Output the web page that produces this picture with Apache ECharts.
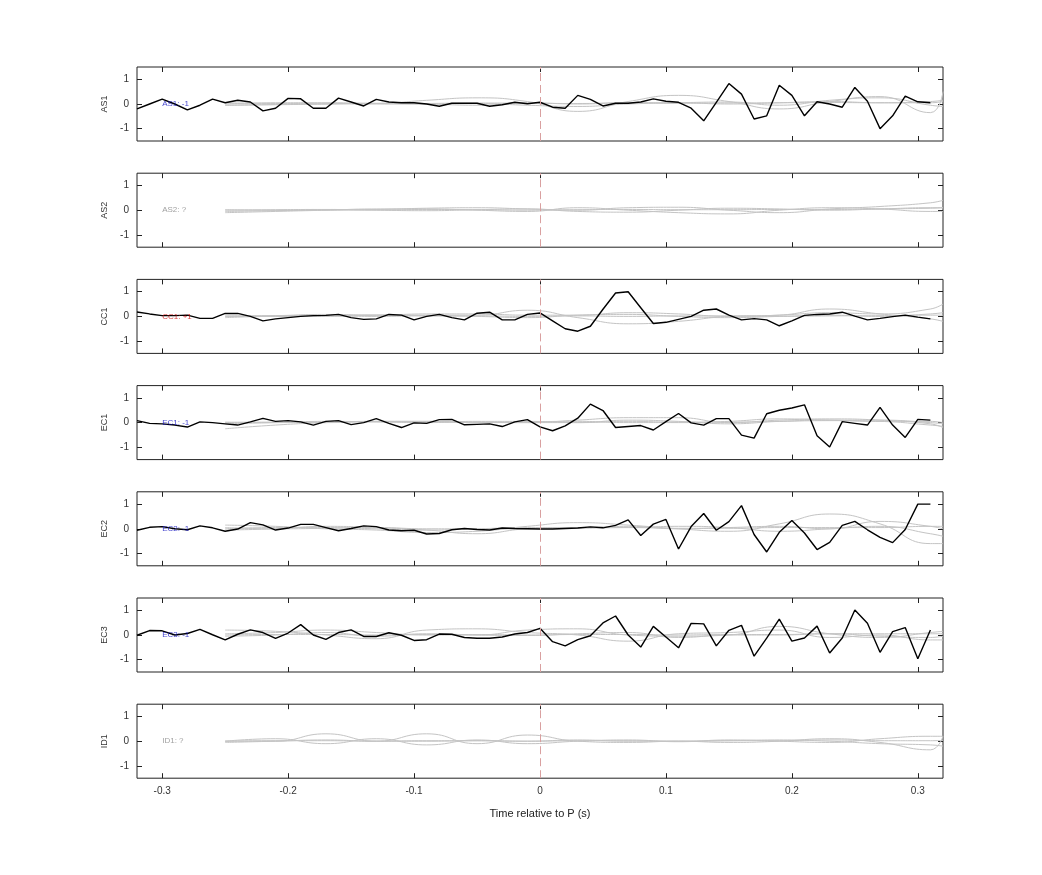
<!DOCTYPE html>
<html>
<head>
<meta charset="utf-8">
<script src="https://cdn.jsdelivr.net/npm/echarts@6/dist/echarts.min.js"></script>
<style>body{margin:0;background:#fff}#main{width:1042px;height:875px}</style>
</head>
<body>
<div id="main"></div>
<script>
// channel names and their polarity labels
var channels = ['AS1', 'AS2', 'CC1', 'EC1', 'EC2', 'EC3', 'ID1'];
var labels = ['AS1: -1', 'AS2: ?', 'CC1: +1', 'EC1: -1', 'EC2: -1', 'EC3: -1', 'ID1: ?'];
var labelColors = ['#1010c0', '#888', '#d01010', '#1010c0', '#1010c0', '#1010c0', '#888'];
var xTicks = [-0.3, -0.2, -0.1, 0, 0.1, 0.2, 0.3];
var yTicks = [-1, 0, 1];

// black trace sample times: -0.32 .. 0.31 step 0.01
var blackT = [];
for (var i = 0; i < 64; i++) blackT.push(+(-0.32 + i * 0.01).toFixed(2));

var as1 = [-0.2,0.0,0.2,0.0,-0.24,-0.05,0.2,0.05,0.15,0.08,-0.28,-0.17,0.23,0.21,-0.17,-0.17,0.24,0.08,-0.08,0.19,0.08,0.05,0.05,0.0,-0.09,0.03,0.03,0.03,-0.09,-0.03,0.07,0.01,0.07,-0.13,-0.17,0.35,0.19,-0.08,0.03,0.03,0.08,0.21,0.11,0.07,-0.17,-0.68,0.07,0.83,0.4,-0.61,-0.48,0.76,0.35,-0.48,0.09,0.0,-0.13,0.67,0.11,-1.0,-0.48,0.32,0.09,0.05];
var cc1 = [0.18,0.1,0.03,0.03,0.05,-0.08,-0.08,0.12,0.12,0.0,-0.18,-0.1,-0.05,0.0,0.03,0.04,0.08,-0.05,-0.12,-0.1,0.08,0.05,-0.14,0.0,0.08,-0.05,-0.14,0.13,0.17,-0.14,-0.14,0.08,0.14,-0.18,-0.5,-0.6,-0.4,0.29,0.95,1.0,0.35,-0.29,-0.24,-0.12,0.0,0.25,0.3,0.05,-0.14,-0.09,-0.14,-0.38,-0.18,0.04,0.08,0.1,0.17,0.01,-0.14,-0.08,-0.01,0.05,-0.03,-0.1];
var ec1 = [0.08,-0.03,-0.05,-0.1,-0.18,0.03,0.0,-0.05,-0.1,0.03,0.17,0.05,0.08,0.03,-0.1,0.05,0.08,-0.08,0.0,0.16,-0.03,-0.2,-0.01,-0.03,0.12,0.13,-0.09,-0.07,-0.05,-0.16,0.03,0.12,-0.17,-0.33,-0.13,0.18,0.75,0.49,-0.2,-0.16,-0.12,-0.3,0.04,0.37,-0.01,-0.1,0.16,0.16,-0.51,-0.63,0.36,0.5,0.59,0.72,-0.53,-0.99,0.04,-0.03,-0.1,0.62,-0.1,-0.6,0.13,0.1];
var ec2 = [-0.06,0.06,0.09,0.0,-0.04,0.12,0.04,-0.1,-0.01,0.25,0.16,-0.05,0.03,0.18,0.18,0.05,-0.08,0.01,0.12,0.09,-0.05,-0.08,-0.06,-0.21,-0.19,-0.04,0.01,-0.03,-0.05,0.03,0.01,0.0,-0.01,-0.01,0.01,0.03,0.08,0.04,0.14,0.36,-0.27,0.19,0.38,-0.82,0.09,0.62,-0.06,0.29,0.94,-0.23,-0.94,-0.14,0.34,-0.17,-0.84,-0.55,0.14,0.3,-0.04,-0.35,-0.56,-0.03,1.0,1.0];
var ec3 = [-0.01,0.18,0.17,0.0,0.06,0.23,0.01,-0.2,0.03,0.21,0.1,-0.14,0.08,0.42,0.0,-0.18,0.1,0.21,-0.06,-0.06,0.09,-0.01,-0.22,-0.19,0.04,0.03,-0.1,-0.13,-0.13,-0.08,0.04,0.1,0.27,-0.27,-0.44,-0.19,-0.03,0.49,0.77,0.0,-0.49,0.35,-0.08,-0.52,0.47,0.45,-0.44,0.19,0.39,-0.86,-0.13,0.64,-0.25,-0.12,0.36,-0.73,-0.12,1.01,0.48,-0.7,0.14,0.3,-0.96,0.2];
var blackData = [as1, null, cc1, ec1, ec2, ec3, null];

// gray template traces, sample times
var grayT = [-0.25,-0.21,-0.17,-0.13,-0.09,-0.05,-0.01,0.03,0.07,0.11,0.15,0.19,0.23,0.27,0.31,0.32];
var grayAS1 = [
  [-0.05,-0.02,0.0,0.02,0.15,0.25,0.1,-0.3,0.1,0.35,0.1,-0.2,0.1,0.3,-0.35,0.5],
  [0.0,0.05,0.05,0.02,0.0,-0.05,0.05,0.0,0.05,0.05,0.0,0.05,0.1,0.05,0.05,0.1],
  [-0.05,-0.03,0.0,0.03,0.0,0.02,-0.05,-0.1,0.0,0.05,0.08,-0.05,0.15,0.25,-0.05,-0.1],
  [0.05,0.02,0.03,0.0,0.02,0.04,0.03,0.02,0.05,0.03,0.04,0.05,0.06,0.05,0.1,0.15]
];
var grayAS2 = [
  [-0.05,-0.02,0.0,0.03,0.08,0.1,0.05,0.0,0.1,0.12,0.0,-0.1,0.05,0.15,0.3,0.4],
  [0.0,0.02,0.03,0.0,-0.02,0.02,0.05,-0.05,-0.08,0.0,0.08,0.05,0.0,0.05,0.1,0.1],
  [-0.1,-0.05,0.0,0.05,0.05,0.0,-0.05,0.1,0.0,-0.1,-0.15,0.0,0.1,0.05,-0.05,-0.05],
  [0.02,0.0,0.02,0.01,0.03,0.02,0.0,0.02,0.03,0.02,0.02,0.03,0.03,0.05,0.08,0.1]
];
var grayCC1 = [
  [0.02,0.03,0.05,0.05,0.05,0.05,0.25,-0.05,-0.3,-0.2,0.0,0.05,0.3,0.1,-0.1,-0.2],
  [0.0,0.03,0.08,0.05,0.1,0.1,0.05,0.05,0.15,0.1,0.0,0.05,0.15,0.1,0.3,0.5],
  [-0.05,0.0,0.0,0.05,0.03,0.0,-0.05,0.05,0.08,0.0,-0.05,0.0,0.05,0.0,0.1,0.15],
  [0.0,0.0,0.02,0.0,0.02,0.02,0.0,0.02,0.0,0.02,0.02,0.0,0.02,0.03,0.05,0.05]
];
var grayEC1 = [
  [-0.25,-0.1,0.0,0.05,0.05,0.0,0.0,0.1,0.2,0.2,0.0,0.1,0.15,0.1,-0.05,-0.2],
  [-0.05,0.0,0.05,0.03,0.0,0.05,0.05,0.0,0.1,0.05,-0.05,0.05,0.1,0.1,0.0,-0.05],
  [0.0,0.02,0.0,0.05,0.05,0.0,0.03,0.05,0.0,0.0,0.05,0.15,0.1,0.05,0.05,0.0],
  [0.02,0.0,0.02,0.03,0.02,0.02,0.0,0.0,0.05,0.02,0.02,0.05,0.08,0.05,-0.1,-0.15]
];
var grayEC2 = [
  [0.15,0.1,0.0,-0.05,-0.15,-0.1,0.1,0.25,0.15,0.0,-0.1,0.2,0.6,0.2,-0.6,-0.6],
  [0.0,0.05,0.05,0.0,-0.05,0.0,0.05,0.05,0.1,0.0,0.05,0.1,0.0,0.3,0.1,0.0],
  [-0.05,0.0,0.1,0.05,-0.05,-0.2,0.0,0.05,0.05,0.1,0.05,-0.1,0.0,0.1,-0.2,-0.3],
  [0.05,0.0,0.02,0.05,0.0,0.0,0.0,0.02,0.05,0.02,0.02,0.05,0.05,0.05,0.1,0.1]
];
var grayEC3 = [
  [0.2,0.15,0.0,-0.15,0.2,0.25,0.1,0.0,-0.25,0.05,0.1,0.2,-0.1,0.0,-0.2,-0.2],
  [0.05,0.1,0.2,0.1,0.0,0.0,0.2,0.25,0.0,-0.05,0.0,0.35,0.05,-0.1,0.1,0.15],
  [-0.05,0.0,0.1,-0.05,0.05,0.0,-0.02,0.05,0.1,-0.1,0.0,0.0,0.05,-0.05,-0.1,-0.05],
  [0.0,0.02,0.02,0.0,0.02,0.02,0.0,0.02,0.02,0.0,0.02,0.02,0.05,0.05,0.05,0.05]
];
var grayID1 = [
  [0.0,0.0,0.3,0.0,0.3,-0.1,0.25,0.0,-0.05,0.0,-0.05,0.0,0.1,-0.05,-0.35,0.2],
  [0.0,0.1,-0.1,0.1,-0.15,0.05,-0.1,0.0,0.05,-0.02,0.05,0.0,-0.05,0.1,0.2,0.2],
  [-0.05,0.0,0.05,0.0,0.0,0.02,0.0,0.05,0.0,0.0,0.02,0.05,0.0,-0.1,-0.15,-0.2],
  [0.0,0.02,0.02,0.0,0.02,0.02,0.0,0.02,0.02,0.0,0.02,0.02,0.05,0.02,0.02,0.03]
];
var grayData = [grayAS1, grayAS2, grayCC1, grayEC1, grayEC2, grayEC3, grayID1];

var chart = echarts.init(document.getElementById('main'));
var grids = [], xAxes = [], yAxes = [], series = [];
var top0 = 67, step = 106.2, h = 74;

channels.forEach(function (name, k) {
  grids.push({ left: 137, width: 806, top: top0 + k * step, height: h,
    show: true, borderColor: '#222', borderWidth: 1, backgroundColor: '#fff' });
  var last = k === channels.length - 1;
  ['bottom', 'top'].forEach(function (pos) {
    xAxes.push({
      type: 'value', gridIndex: k, position: pos, min: -0.32, max: 0.32,
      axisLine: { show: false, onZero: false }, splitLine: { show: false },
      axisTick: { inside: true, length: 5, customValues: xTicks, lineStyle: { color: '#222' } },
      axisLabel: { show: last && pos === 'bottom', customValues: xTicks, color: '#333',
        fontSize: 10, fontFamily: 'Liberation Sans', margin: 8 },
      name: last && pos === 'bottom' ? 'Time relative to P (s)' : '',
      nameLocation: 'middle', nameGap: 30,
      nameTextStyle: { fontSize: 11, color: '#222', fontFamily: 'Liberation Sans' }
    });
  });
  ['left', 'right'].forEach(function (pos) {
    yAxes.push({
      type: 'value', gridIndex: k, position: pos, min: -1.5, max: 1.5,
      axisLine: { show: false, onZero: false }, splitLine: { show: false },
      axisTick: { inside: true, length: 5, customValues: yTicks, lineStyle: { color: '#222' } },
      axisLabel: { show: pos === 'left', customValues: yTicks, color: '#333',
        fontSize: 10, fontFamily: 'Liberation Sans', margin: 8 },
      name: pos === 'left' ? name : '', nameLocation: 'middle', nameGap: 26, nameRotate: 90,
      nameTextStyle: { fontSize: 9, color: '#333', fontFamily: 'Liberation Sans' }
    });
  });
  var xi = 2 * k, yi = 2 * k;
  grayData[k].forEach(function (g, j) {
    series.push({
      type: 'line', xAxisIndex: xi, yAxisIndex: yi, smooth: 0.5, symbol: 'none',
      data: grayT.map(function (t, m) { return [t, g[m]]; }),
      lineStyle: { color: '#c4c4c4', width: 1 }, silent: true, z: 2,
      markLine: j === 0 ? { silent: true, symbol: 'none', label: { show: false },
        lineStyle: { color: '#d9a0a0', type: [8, 4], width: 1 }, data: [{ xAxis: 0 }] } : undefined
    });
  });
  if (blackData[k]) {
    series.push({
      type: 'line', xAxisIndex: xi, yAxisIndex: yi, symbol: 'none', z: 4,
      data: blackT.map(function (t, m) { return [t, blackData[k][m]]; }),
      lineStyle: { color: '#000', width: 1.4 }
    });
  }
  series.push({
    type: 'scatter', xAxisIndex: xi, yAxisIndex: yi, symbolSize: 0, z: 5,
    data: [[-0.3, 0]],
    label: { show: true, position: 'right', distance: 0, formatter: labels[k],
      color: labelColors[k], fontSize: 8, fontFamily: 'Liberation Sans' }
  });
});

chart.setOption({
  animation: false,
  grid: grids, xAxis: xAxes, yAxis: yAxes, series: series
});
</script>
</body>
</html>
